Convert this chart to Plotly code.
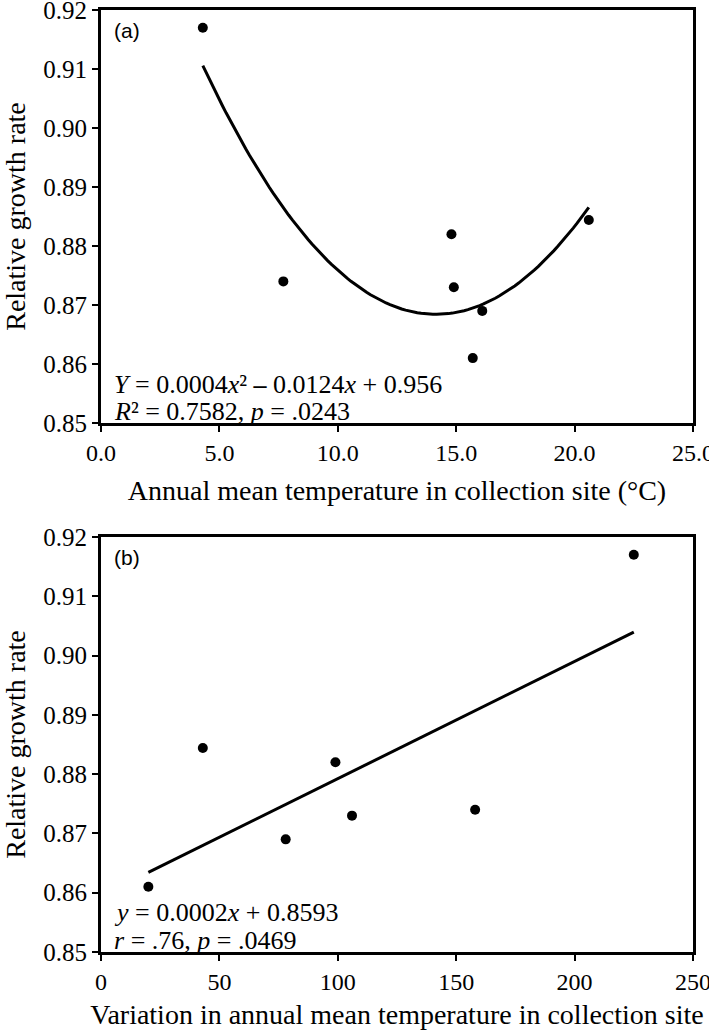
import numpy as np
import plotly.graph_objects as go

# Panel (a): annual mean temperature vs relative growth rate
temp_a = [4.3, 7.7, 14.8, 14.9, 15.7, 16.1, 20.6]
rgr_a = [0.917, 0.874, 0.882, 0.873, 0.861, 0.869, 0.8844]

# Panel (b): variation in annual mean temperature vs relative growth rate
var_b = [20, 43, 78, 99, 106, 158, 225]
rgr_b = [0.861, 0.8844, 0.869, 0.882, 0.873, 0.874, 0.917]

y_ticks = [0.85, 0.86, 0.87, 0.88, 0.89, 0.90, 0.91, 0.92]
y_ticklabels = ["0.85", "0.86", "0.87", "0.88", "0.89", "0.90", "0.91", "0.92"]
xa_ticks = [0, 5, 10, 15, 20, 25]
xa_ticklabels = ["0.0", "5.0", "10.0", "15.0", "20.0", "25.0"]
xb_ticks = [0, 50, 100, 150, 200, 250]
xb_ticklabels = ["0", "50", "100", "150", "200", "250"]

# fitted curves from the data
ca = np.polyfit(temp_a, rgr_a, 2)
xa_fit = np.linspace(min(temp_a), max(temp_a), 100)
ya_fit = np.polyval(ca, xa_fit)
cb = np.polyfit(var_b, rgr_b, 1)
xb_fit = np.array([min(var_b), max(var_b)])
yb_fit = np.polyval(cb, xb_fit)

SERIF = "Liberation Serif, Times New Roman, serif"
SANS = "Liberation Sans, Arial, sans-serif"

fig = go.Figure()
fig.add_trace(go.Scatter(x=xa_fit, y=ya_fit, mode="lines", line=dict(color="black", width=3),
                         xaxis="x", yaxis="y", showlegend=False, hoverinfo="skip"))
fig.add_trace(go.Scatter(x=temp_a, y=rgr_a, mode="markers",
                         marker=dict(color="black", size=10), xaxis="x", yaxis="y", showlegend=False))
fig.add_trace(go.Scatter(x=xb_fit, y=yb_fit, mode="lines", line=dict(color="black", width=3),
                         xaxis="x2", yaxis="y2", showlegend=False, hoverinfo="skip"))
fig.add_trace(go.Scatter(x=var_b, y=rgr_b, mode="markers",
                         marker=dict(color="black", size=10), xaxis="x2", yaxis="y2", showlegend=False))

ML, MR, MT, MB = 101, 16, 10, 78
PH = 1030 - MT - MB
ya_dom = [1 - (423 - MT) / PH, 1]
yb_dom = [0, 1 - (537 - MT) / PH]

axis_common = dict(showline=True, linecolor="black", linewidth=3, mirror=True,
                   ticks="outside", ticklen=6, tickwidth=2, tickcolor="black",
                   showgrid=False, zeroline=False, automargin=False,
                   ticklabeloverflow="allow")
xtick_font = dict(family=SERIF, size=24, color="black")
ytick_font = dict(family=SERIF, size=25, color="black")
xtitle_font = dict(family=SERIF, size=28, color="black")
ytitle_font = dict(family=SERIF, size=28, color="black")

fig.update_layout(
    width=709, height=1030,
    margin=dict(l=ML, r=MR, t=MT, b=MB),
    paper_bgcolor="white", plot_bgcolor="white",
    xaxis=dict(domain=[0, 1], anchor="y", range=[0, 25], tickvals=xa_ticks, ticktext=xa_ticklabels,
               tickfont=xtick_font,
               title=dict(text="Annual mean temperature in collection site (°C)",
                          font=xtitle_font, standoff=16),
               **axis_common),
    yaxis=dict(domain=ya_dom, anchor="x", range=[0.85, 0.92], tickvals=y_ticks, ticktext=y_ticklabels,
               tickfont=ytick_font,
               title=dict(text="Relative growth rate", font=ytitle_font, standoff=18),
               **axis_common),
    xaxis2=dict(domain=[0, 1], anchor="y2", range=[0, 250], tickvals=xb_ticks, ticktext=xb_ticklabels,
                tickfont=xtick_font,
                title=dict(text="Variation in annual mean temperature in collection site",
                           font=xtitle_font, standoff=16),
                **axis_common),
    yaxis2=dict(domain=yb_dom, anchor="x2", range=[0.85, 0.92], tickvals=y_ticks, ticktext=y_ticklabels,
                tickfont=ytick_font,
                title=dict(text="Relative growth rate", font=ytitle_font, standoff=18),
                **axis_common),
)

ann_font = dict(family=SERIF, size=26, color="black")
fig.add_annotation(x=0.45, y=0.9188, xref="x", yref="y", text="(a)", showarrow=False,
                   xanchor="left", yanchor="top", font=dict(family=SANS, size=21, color="black"))
fig.add_annotation(x=0.45, y=0.8566, xref="x", yref="y",
                   text="<i>Y</i> = 0.0004<i>x</i>² <b>–</b> 0.0124<i>x</i> + 0.956",
                   showarrow=False, xanchor="left", yanchor="middle", font=ann_font)
fig.add_annotation(x=0.45, y=0.8520, xref="x", yref="y",
                   text="<i>R</i>² = 0.7582, <i>p</i> = .0243",
                   showarrow=False, xanchor="left", yanchor="middle", font=ann_font)

fig.add_annotation(x=4.5, y=0.9188, xref="x2", yref="y2", text="(b)", showarrow=False,
                   xanchor="left", yanchor="top", font=dict(family=SANS, size=21, color="black"))
fig.add_annotation(x=4.5, y=0.8566, xref="x2", yref="y2",
                   text="<i>y</i> = 0.0002<i>x</i> + 0.8593",
                   showarrow=False, xanchor="left", yanchor="middle", font=ann_font)
fig.add_annotation(x=4.5, y=0.8520, xref="x2", yref="y2",
                   text="<i>r</i> = .76, <i>p</i> = .0469",
                   showarrow=False, xanchor="left", yanchor="middle", font=ann_font)

fig.write_html("out.html", config={"displayModeBar": False},
               post_script="document.body.style.margin='0';")
